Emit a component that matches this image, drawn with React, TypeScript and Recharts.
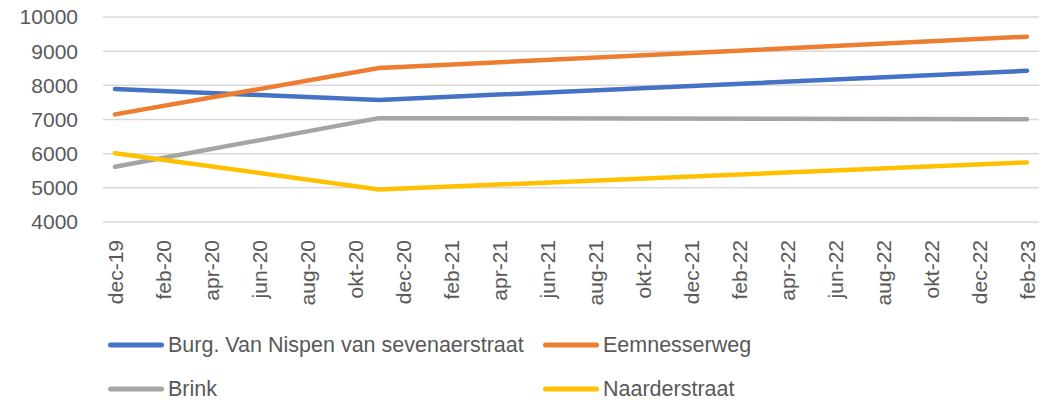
import { CartesianGrid, Line, LineChart, XAxis, YAxis } from "recharts";

const months = [
  "dec-19",
  "jan-20", "feb-20", "mrt-20", "apr-20", "mei-20", "jun-20", "jul-20", "aug-20", "sep-20", "okt-20", "nov-20", "dec-20",
  "jan-21", "feb-21", "mrt-21", "apr-21", "mei-21", "jun-21", "jul-21", "aug-21", "sep-21", "okt-21", "nov-21", "dec-21",
  "jan-22", "feb-22", "mrt-22", "apr-22", "mei-22", "jun-22", "jul-22", "aug-22", "sep-22", "okt-22", "nov-22", "dec-22",
  "jan-23", "feb-23",
];

// months that have a measurement; the lines run straight between them
const measuredMonths = ["dec-19", "nov-20", "feb-23"];
const burgValues = [7890, 7570, 8425];
const eemnesserwegValues = [7150, 8505, 9425];
const brinkValues = [5615, 7040, 7005];
const naarderstraatValues = [6015, 4950, 5745];

const yTicks = [4000, 5000, 6000, 7000, 8000, 9000, 10000];

const series = [
  { key: "burg", name: "Burg. Van Nispen van sevenaerstraat", color: "#4472C4", values: burgValues },
  { key: "eemnesserweg", name: "Eemnesserweg", color: "#ED7D31", values: eemnesserwegValues },
  { key: "brink", name: "Brink", color: "#A5A5A5", values: brinkValues },
  { key: "naarderstraat", name: "Naarderstraat", color: "#FFC000", values: naarderstraatValues },
];

const data = months.map((month) => {
  const row: Record<string, string | number | null> = { month };
  const idx = measuredMonths.indexOf(month);
  series.forEach((s) => {
    row[s.key] = idx >= 0 ? s.values[idx] : null;
  });
  return row;
});

const FONT = "'Liberation Sans', Arial, sans-serif";
const TEXT = "#595959";

function MonthTick({ x, y, payload }: any) {
  return (
    <g transform={`translate(${x},${y + 10})`}>
      <text transform="rotate(-90)" textAnchor="end" dy="0.36em" fill={TEXT} fontSize={21} fontFamily={FONT}>
        {payload.value}
      </text>
    </g>
  );
}

// legend slots: 2 x 2, as in the original sheet
const legendPos = [
  { left: 108, top: 345 },
  { left: 543, top: 345 },
  { left: 108, top: 389 },
  { left: 543, top: 389 },
];

export default function App() {
  return (
    <div
      style={{
        position: "absolute",
        left: 0,
        top: 0,
        width: 1045,
        height: 400,
        background: "white",
        fontFamily: FONT,
      }}
    >
      <LineChart width={1045} height={320} data={data} margin={{ top: 17, right: 6, bottom: 21, left: 0 }}>
        <CartesianGrid vertical={false} stroke="#D9D9D9" strokeWidth={1.5} />
        <XAxis
          dataKey="month"
          interval={1}
          tick={<MonthTick />}
          tickLine={false}
          axisLine={false}
          height={77}
          padding={{ left: 12, right: 12 }}
        />
        <YAxis
          domain={[4000, 10000]}
          ticks={yTicks}
          width={103}
          tickLine={false}
          axisLine={false}
          tickSize={0}
          tickMargin={25}
          tick={{ fill: TEXT, fontSize: 21, fontFamily: FONT }}
        />
        {series.map((s) => (
          <Line
            key={s.key}
            type="linear"
            dataKey={s.key}
            name={s.name}
            stroke={s.color}
            strokeWidth={4.5}
            strokeLinecap="round"
            strokeLinejoin="round"
            dot={false}
            activeDot={false}
            connectNulls
            isAnimationActive={false}
          />
        ))}
      </LineChart>

      {series.map((s, i) => (
        <div
          key={s.key}
          style={{
            position: "absolute",
            left: legendPos[i].left,
            top: legendPos[i].top,
            transform: "translateY(-50%)",
            display: "flex",
            alignItems: "center",
            fontSize: 21.5,
            color: TEXT,
            whiteSpace: "nowrap",
          }}
        >
          <span
            style={{
              display: "inline-block",
              width: 56,
              height: 5,
              borderRadius: 3,
              background: s.color,
              marginRight: 4,
            }}
          />
          {s.name}
        </div>
      ))}
    </div>
  );
}
